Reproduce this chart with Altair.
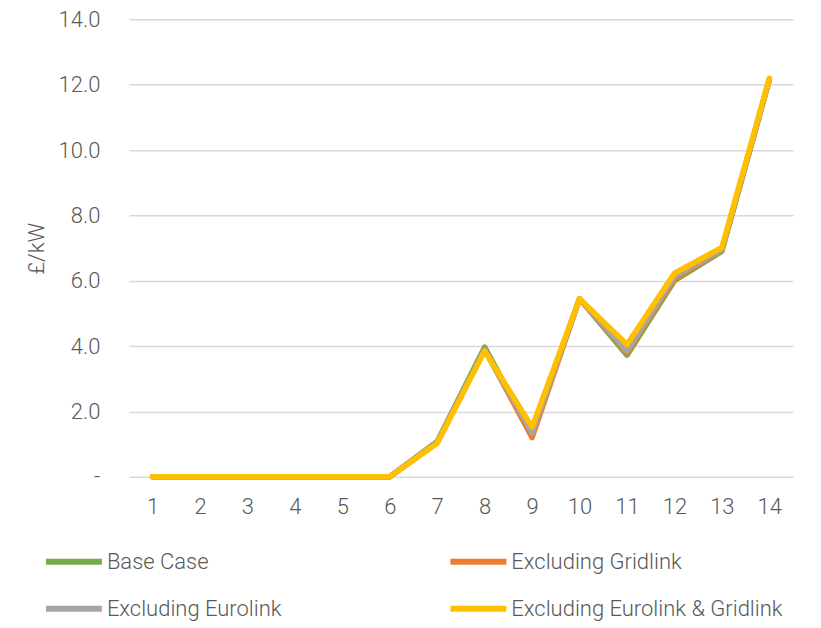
import altair as alt
import pandas as pd

periods = list(range(1, 15))
series_names = ["Base Case", "Excluding Gridlink", "Excluding Eurolink", "Excluding Eurolink & Gridlink"]
base_case = [0, 0, 0, 0, 0, 0, 1.08, 3.97, 1.30, 5.45, 3.72, 6.00, 6.90, 12.15]
excl_gridlink = [0, 0, 0, 0, 0, 0, 1.05, 3.90, 1.20, 5.45, 3.80, 6.05, 6.93, 12.15]
excl_eurolink = [0, 0, 0, 0, 0, 0, 1.05, 3.88, 1.35, 5.45, 3.85, 6.13, 6.95, 12.17]
excl_both = [0, 0, 0, 0, 0, 0, 1.03, 3.85, 1.52, 5.45, 4.05, 6.23, 7.02, 12.20]
series_colors = {"Base Case": "#70AD47", "Excluding Gridlink": "#ED7D31",
                 "Excluding Eurolink": "#A5A5A5", "Excluding Eurolink & Gridlink": "#FFC000"}
# legend is filled column by column
legend_order = ["Base Case", "Excluding Eurolink", "Excluding Gridlink", "Excluding Eurolink & Gridlink"]
y_ticks = [0, 2, 4, 6, 8, 10, 12, 14]

rows = []
for i, (name, vals) in enumerate(zip(series_names, [base_case, excl_gridlink, excl_eurolink, excl_both])):
    for p, v in zip(periods, vals):
        rows.append({"period": p, "value": v, "series": name, "order": i})
df = pd.DataFrame(rows)

FONT = "Roboto"
GREY = "#595959"

chart = alt.Chart(df).mark_line(strokeWidth=5.5, strokeCap="round", strokeJoin="round").encode(
    x=alt.X("period:O", scale=alt.Scale(type="point", padding=0.5),
            axis=alt.Axis(title=None, labelAngle=0, domain=False, ticks=False, grid=False,
                          labelPadding=20, labelFontSize=22, labelColor=GREY,
                          labelFont=FONT, labelFontWeight=300)),
    y=alt.Y("value:Q", scale=alt.Scale(domain=[0, 14], nice=False),
            axis=alt.Axis(title="£/kW", values=y_ticks, domain=False, ticks=False,
                          gridColor="#D9D9D9", gridWidth=1.5,
                          labelExpr="datum.value == 0 ? '-  ' : format(datum.value, '.1f')",
                          labelPadding=29, labelFontSize=22, labelColor=GREY,
                          labelFont=FONT, labelFontWeight=300,
                          titleFontSize=22, titleColor=GREY, titleFont=FONT,
                          titleFontWeight=300, titlePadding=10)),
    color=alt.Color("series:N", sort=legend_order,
                    scale=alt.Scale(domain=legend_order,
                                    range=[series_colors[s] for s in legend_order]),
                    legend=alt.Legend(title=None, orient="none", legendX=-86, legendY=512,
                                      columns=2, symbolType="stroke", symbolSize=3136,
                                      symbolStrokeWidth=6, labelOffset=2,
                                      columnPadding=157, rowPadding=4,
                                      labelFontSize=22, labelColor=GREY, labelFont=FONT,
                                      labelFontWeight=300, labelLimit=400)),
    order=alt.Order("order:Q"),
).properties(
    width=665, height=458,
    padding={"left": 121, "top": 11, "right": 20, "bottom": 150},
    autosize=alt.AutoSizeParams(type="none"),
).configure_view(stroke=None)

chart.save("out.html", embed_options={"renderer": "svg", "actions": False})
